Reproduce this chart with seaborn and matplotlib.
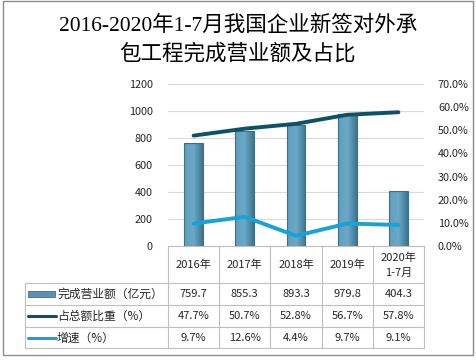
import numpy as np
import pandas as pd
import matplotlib
matplotlib.use("Agg")
import matplotlib.pyplot as plt
from matplotlib.patches import Rectangle
from matplotlib.lines import Line2D
import matplotlib.transforms as mtransforms
import seaborn as sns

# ---------------- data ----------------
categories = ["2016年", "2017年", "2018年", "2019年", "2020年\n1-7月"]
revenue = [759.7, 855.3, 893.3, 979.8, 404.3]          # 亿元
share = [47.7, 50.7, 52.8, 56.7, 57.8]                 # %
growth = [9.7, 12.6, 4.4, 9.7, 9.1]                    # %
revenue_labels = ["759.7", "855.3", "893.3", "979.8", "404.3"]
share_labels = ["47.7%", "50.7%", "52.8%", "56.7%", "57.8%"]
growth_labels = ["9.7%", "12.6%", "4.4%", "9.7%", "9.1%"]
series_names = ["完成营业额（亿元）", "占总额比重（%）", "增速（%）"]
title_lines = ["2016-2020年1-7月我国企业新签对外承", "包工程完成营业额及占比"]
left_ticks = [0, 200, 400, 600, 800, 1000, 1200]
right_ticks = [0, 10, 20, 30, 40, 50, 60, 70]

df = pd.DataFrame({"cat": categories, "revenue": revenue,
                   "share": share, "growth": growth})

sns.set_theme(style="white")
plt.rcParams["font.family"] = ["Noto Sans CJK SC", "DejaVu Sans"]

W, H = 476, 360
fig = plt.figure(figsize=(W / 100, H / 100), dpi=100)

def fx(x):
    return x / W

def fy(y):
    return 1 - y / H

BAR_C = "#5a93b0"
BAR_E = "#3f6f86"
SHARE_C = "#0b5268"
GROWTH_C = "#17a2d8"
GRID_C = "#d9d9d9"
BORDER_C = "#bfbfbf"
TXT_C = "#262626"

# plot area in pixels
L, R, T, B = 168, 424, 84, 246
ax = fig.add_axes([fx(L), fy(B), fx(R) - fx(L), fy(T) - fy(B)])

sns.barplot(data=df, x="cat", y="revenue", ax=ax, color=BAR_C,
            width=0.37, edgecolor=BAR_E, linewidth=0.8, saturation=1)
ax.set_ylim(0, 1200)
ax.set_yticks(left_ticks)
ax.set_yticklabels([str(v) for v in left_ticks], fontsize=7.8, color=TXT_C)
ax.yaxis.grid(True, color=GRID_C, linewidth=0.8)
ax.set_axisbelow(True)
ax.set_xlabel("")
ax.set_ylabel("")
ax.set_xticks([])
ax.tick_params(axis="y", length=0, pad=11)
for s in ["top", "right", "left"]:
    ax.spines[s].set_visible(False)
ax.spines["bottom"].set_color(BORDER_C)
ax.spines["bottom"].set_linewidth(0.8)

# subtle gradient on bars
cmap = matplotlib.colors.LinearSegmentedColormap.from_list(
    "g", ["#5f9ebd", "#6aa9c7", "#3f7590"])
for p in ax.patches:
    x0, w, h = p.get_x(), p.get_width(), p.get_height()
    grad = np.linspace(0, 1, 50).reshape(1, -1)
    im = ax.imshow(grad, extent=[x0, x0 + w, 0, h], aspect="auto",
                   cmap=cmap, zorder=2)
    im.set_clip_path(p)
    p.set_zorder(3)
    p.set_facecolor("none")
ax.set_xlim(-0.5, len(categories) - 0.5)
ax.set_ylim(0, 1200)

ax2 = ax.twinx()
xs = np.arange(len(categories))
sns.lineplot(x=xs, y=share, ax=ax2, color=SHARE_C, linewidth=2.8,
             solid_capstyle="round")
sns.lineplot(x=xs, y=growth, ax=ax2, color=GROWTH_C, linewidth=2.8,
             solid_capstyle="round")
ax2.set_ylim(0, 70)
ax2.set_yticks(right_ticks)
ax2.set_yticklabels([f"{v:.1f}%" for v in right_ticks], fontsize=7.8,
                    color=TXT_C)
ax2.tick_params(axis="y", length=0, pad=10)
for s in ["top", "right", "left", "bottom"]:
    ax2.spines[s].set_visible(False)
ax2.set_xlim(-0.5, len(categories) - 0.5)

# ---------------- data table ----------------
tr = mtransforms.blended_transform_factory(ax.transData, fig.transFigure)
row_lines = [283, 305, 327, 348]
col_edges = np.arange(len(categories) + 1) - 0.5
lw = 0.8

def hline(y, x0px, x1px):
    fig.add_artist(Line2D([fx(x0px), fx(x1px)], [fy(y), fy(y)],
                          transform=fig.transFigure, color=BORDER_C, lw=lw))

def vline_data(xd, y0, y1):
    fig.add_artist(Line2D([xd, xd], [fy(y0), fy(y1)], transform=tr,
                          color=BORDER_C, lw=lw))

for y in row_lines:
    hline(y, 25, R)
for xe in col_edges:
    vline_data(xe, B, row_lines[-1])
fig.add_artist(Line2D([fx(25), fx(25)], [fy(283), fy(348)],
                      transform=fig.transFigure, color=BORDER_C, lw=lw))

for i, c in enumerate(categories):
    fig.text(i, fy(265), c, transform=tr, ha="center", va="center",
             fontsize=8, color=TXT_C, linespacing=1.6)

row_centers = [294, 316, 338]
for r, labels in enumerate([revenue_labels, share_labels, growth_labels]):
    for i, t in enumerate(labels):
        fig.text(i, fy(row_centers[r]), t, transform=tr, ha="center",
                 va="center", fontsize=8, color=TXT_C)

fig.add_artist(Rectangle((fx(28), fy(297)), fx(55) - fx(28), fy(291) - fy(297),
                         transform=fig.transFigure, facecolor=BAR_C,
                         edgecolor=BAR_E, lw=0.6))
fig.add_artist(Line2D([fx(28), fx(56)], [fy(316), fy(316)],
                      transform=fig.transFigure, color=SHARE_C, lw=2.2))
fig.add_artist(Line2D([fx(28), fx(56)], [fy(337.5), fy(337.5)],
                      transform=fig.transFigure, color=GROWTH_C, lw=2.2))
for r, name in enumerate(series_names):
    fig.text(fx(57), fy(row_centers[r]), name, ha="left", va="center",
             fontsize=8.5, color=TXT_C)

# title: serif digits, CJK fallback
title_family = ["Liberation Serif", "Noto Sans CJK SC"]
fig.text(0.5, fy(26), title_lines[0], ha="center", va="center",
         fontsize=15.5, color="black", family=title_family)
fig.text(0.5, fy(54), title_lines[1], ha="center", va="center",
         fontsize=15.5, color="black", family=title_family)

# outer frame
fig.add_artist(Rectangle((fx(3), fy(355)), fx(473) - fx(3), fy(1) - fy(355),
                         transform=fig.transFigure, facecolor="none",
                         edgecolor="#8c8c8c", lw=1))

fig.savefig("out.png", dpi=100)
